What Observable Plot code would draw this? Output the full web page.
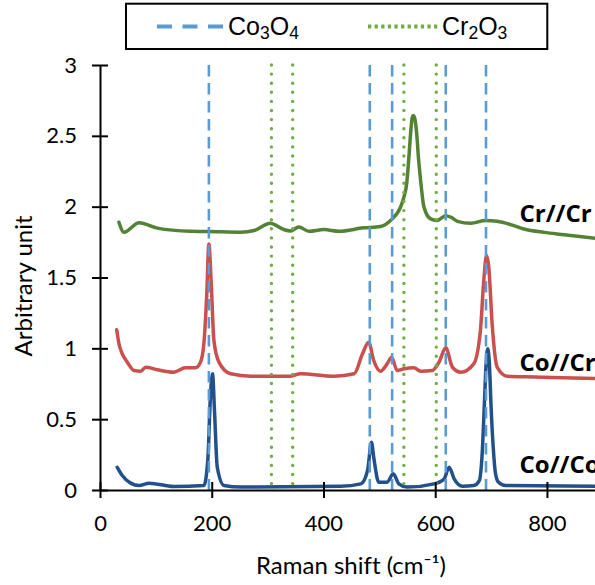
<!DOCTYPE html>
<html><head><meta charset="utf-8">
<script src="https://cdn.jsdelivr.net/npm/d3@7"></script>
<script src="https://cdn.jsdelivr.net/npm/@observablehq/plot@0.6"></script>
<style>
body{margin:0;background:#fff;}
#wrap{position:relative;width:595px;height:585px;overflow:hidden;background:#fff;}
#wrap text{font-variant-ligatures:none;font-feature-settings:"liga" 0;}
</style></head><body><div id="wrap"></div>
<script>
// Cr//Cr spectrum (green)
const crcrX = [33, 42, 69, 102, 161, 194, 251, 275, 304, 328, 340, 355, 373, 400, 427, 471, 501, 519, 537, 543, 548, 552, 555, 558, 560, 562, 566, 569, 573, 578, 582, 591, 602, 618, 627, 639, 663, 689, 710, 734, 758, 794, 830, 886];
const crcrY = [1.894, 1.823, 1.890, 1.852, 1.830, 1.828, 1.823, 1.835, 1.887, 1.842, 1.832, 1.860, 1.830, 1.842, 1.830, 1.854, 1.863, 1.906, 2.00, 2.07, 2.165, 2.353, 2.518, 2.635, 2.647, 2.635, 2.518, 2.353, 2.188, 2.02, 1.965, 1.917, 1.906, 1.94, 1.929, 1.900, 1.886, 1.906, 1.900, 1.877, 1.846, 1.822, 1.806, 1.780];
// Co//Cr spectrum (red)
const cocrX = [29, 33, 39, 48, 60, 72, 81, 102, 131, 152, 170, 179, 185, 190, 194, 198, 203, 212, 233, 269, 340, 358, 418, 454, 469, 480, 489, 501, 513, 521, 531, 543, 561, 573, 594, 606, 618, 630, 645, 668, 680, 686, 691, 695, 701, 710, 728, 776, 886];
const cocrY = [1.134, 1.036, 0.965, 0.906, 0.847, 0.842, 0.870, 0.852, 0.835, 0.866, 0.866, 0.906, 1.036, 1.365, 1.74, 1.482, 1.059, 0.906, 0.824, 0.807, 0.807, 0.824, 0.807, 0.824, 0.965, 1.047, 0.918, 0.842, 0.894, 0.941, 0.847, 0.859, 0.866, 0.842, 0.847, 0.906, 1.007, 0.870, 0.835, 0.894, 1.129, 1.482, 1.659, 1.576, 1.176, 0.871, 0.806, 0.801, 0.790];
// Co//Co spectrum (dark blue)
const cocoX = [30, 39, 54, 69, 87, 131, 185, 192, 197, 200.5, 204, 209, 221, 251, 430, 466, 478, 485, 489, 498, 513, 524, 534, 549, 597, 615, 624, 633, 648, 668, 678, 683, 687, 690, 693, 696, 699, 703, 707, 712, 725, 886];
const cocoY = [0.164, 0.106, 0.052, 0.035, 0.052, 0.028, 0.035, 0.212, 0.682, 0.824, 0.565, 0.164, 0.035, 0.024, 0.030, 0.047, 0.141, 0.341, 0.235, 0.059, 0.059, 0.118, 0.047, 0.024, 0.047, 0.082, 0.164, 0.082, 0.030, 0.035, 0.07, 0.25, 0.60, 0.88, 1.0, 0.90, 0.60, 0.30, 0.12, 0.06, 0.035, 0.030];

// Reference band positions (cm-1)
const co3o4Lines = [194, 482, 522, 618, 690];
const cr2o3Lines = [306, 344, 543, 601];

// Series labels
const seriesNames = ["Cr//Cr", "Co//Cr", "Co//Co"];
const labelX = [750, 750, 750];
const labelY = [1.95, 0.90, 0.18];

const xTicks = [0, 200, 400, 600, 800];
const xTickLabels = ["0", "200", "400", "600", "800"];
const yTicks = [0, 0.5, 1, 1.5, 2, 2.5, 3];
const yTickLabels = ["0", "0.5", "1", "1.5", "2", "2.5", "3"];
const xTitle = "Raman shift (cm\u207B\u00B9)";
const yTitle = "Arbitrary unit";
const legendParts = [["Co", "3", "O", "4"], ["Cr", "2", "O", "3"]];

const rows = (xs, ys) => xs.map((x, i) => ({x, y: ys[i]}));
const labels = seriesNames.map((t, i) => ({t, x: labelX[i], y: labelY[i]}));

const plot = Plot.plot({
  width: 595, height: 585,
  marginLeft: 100, marginRight: 0, marginTop: 65, marginBottom: 95,
  x: {domain: [0, 886]},
  y: {domain: [0, 3]},
  style: {fontFamily: "Lato, sans-serif", fontSize: "22px", color: "#000", background: "#fff"},
  marks: [
    Plot.line(rows(crcrX, crcrY), {x: "x", y: "y", stroke: "#548235", strokeWidth: 3.5, curve: "monotone-x"}),
    Plot.line(rows(cocrX, cocrY), {x: "x", y: "y", stroke: "#c9504c", strokeWidth: 3.5, curve: "monotone-x"}),
    Plot.line(rows(cocoX, cocoY), {x: "x", y: "y", stroke: "#22508a", strokeWidth: 3.5, curve: "monotone-x"}),
    Plot.ruleX(co3o4Lines, {stroke: "#5b9bd5", strokeWidth: 2.6, strokeDasharray: "11.5,6.5"}),
    Plot.ruleX(cr2o3Lines, {stroke: "#70ad47", strokeWidth: 3.4, strokeDasharray: "0,9.1", strokeLinecap: "round"}),
    Plot.ruleX([0], {stroke: "#000", strokeWidth: 2}),
    Plot.ruleY([0], {stroke: "#000", strokeWidth: 2}),
    Plot.axisY({ticks: yTicks, tickSize: 16, dx: 8, text: null, label: null, strokeWidth: 2}),
    Plot.axisY({ticks: yTicks, tickSize: 0, tickPadding: 23.5, label: null, fontSize: 22,
      tickFormat: d => yTickLabels[yTicks.indexOf(d)]}),
    Plot.axisX({ticks: xTicks, tickSize: 16, dy: -8, text: null, label: null, strokeWidth: 2}),
    Plot.axisX({ticks: xTicks, tickSize: 0, tickPadding: 25, label: null, fontSize: 22,
      tickFormat: d => xTickLabels[xTicks.indexOf(d)]}),
    Plot.text([xTitle], {frameAnchor: "bottom", lineAnchor: "middle", textAnchor: "middle", dy: 76, dx: 3, fontSize: 24}),
    Plot.text([yTitle], {frameAnchor: "left", lineAnchor: "middle", textAnchor: "middle", rotate: -90, dx: -76, dy: 8, fontSize: 24}),
    Plot.text(labels, {x: "x", y: "y", text: "t", textAnchor: "start", fontWeight: "bold", fontSize: 24,
      fontFamily: "'Open Sans', sans-serif"})
  ]
});
document.getElementById("wrap").appendChild(plot);

// Legend (drawn above the plot area)
const lg = d3.select("#wrap").append("svg")
  .attr("width", 595).attr("height", 60)
  .style("position", "absolute").style("left", "0px").style("top", "0px");
lg.append("rect").attr("x", 126).attr("y", 3.7).attr("width", 421.3).attr("height", 45.3)
  .attr("fill", "#fff").attr("stroke", "#000").attr("stroke-width", 2);
lg.append("line").attr("x1", 157).attr("x2", 223).attr("y1", 26.5).attr("y2", 26.5)
  .attr("stroke", "#5b9bd5").attr("stroke-width", 4).attr("stroke-dasharray", "15,10.5");
lg.append("line").attr("x1", 368).attr("x2", 440).attr("y1", 26.5).attr("y2", 26.5)
  .attr("stroke", "#70ad47").attr("stroke-width", 4).attr("stroke-dasharray", "3.3,3.3");
const legendX = [228, 442];
legendParts.forEach((parts, i) => {
  const t = lg.append("text").attr("x", legendX[i]).attr("y", 35)
    .attr("font-family", "'Liberation Sans', Arial, sans-serif").attr("font-size", 25).attr("fill", "#000");
  t.append("tspan").text(parts[0]);
  t.append("tspan").attr("dy", 4.3).attr("font-size", 17.5).text(parts[1]);
  t.append("tspan").attr("dy", -4.3).attr("font-size", 25).text(parts[2]);
  t.append("tspan").attr("dy", 4.3).attr("font-size", 17.5).text(parts[3]);
});
</script></body></html>
